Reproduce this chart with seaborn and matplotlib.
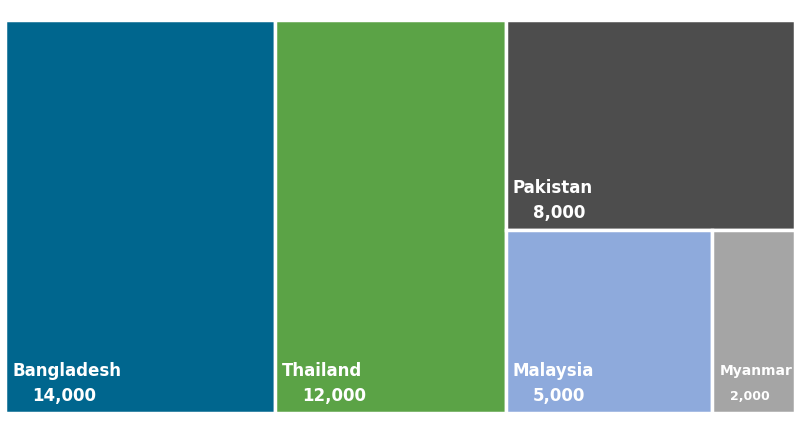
import matplotlib
matplotlib.use("Agg")
import matplotlib.pyplot as plt
from matplotlib.patches import Rectangle
import seaborn as sns

sns.set_style("white")
plt.rcParams['font.family'] = ['DejaVu Sans']

categories = ["Bangladesh", "Thailand", "Pakistan", "Malaysia", "Myanmar"]
values = [14000, 12000, 8000, 5000, 2000]
labels = ["14,000", "12,000", "8,000", "5,000", "2,000"]
colors = ["#00668E", "#5BA346", "#4D4D4D", "#8EAADC", "#A5A5A5"]

fig = plt.figure(figsize=(8, 4.34), dpi=100)
ax = fig.add_axes([0, 0, 1, 1])
ax.set_xlim(0, 800)
ax.set_ylim(434, 0)
ax.axis("off")

X0, Y0, W, H = 5, 20, 790, 393
total = sum(values)
# layout: first two as full-height columns, rest in a column split
rects = []
x = X0
for v in values[:2]:
    w = W * v / total
    rects.append((x, Y0, w, H))
    x += w
rest = values[2:]
rw = X0 + W - x
rt = sum(rest)
h1 = H * rest[0] / rt
rects.append((x, Y0, rw, h1))
bt = sum(rest[1:])
xx = x
for v in rest[1:]:
    w = rw * v / bt
    rects.append((xx, Y0 + h1, w, H - h1))
    xx += w

for i, (rx, ry, rw_, rh) in enumerate(rects):
    ax.add_patch(Rectangle((rx, ry), rw_, rh, facecolor=colors[i], edgecolor="white", lw=2.5))
    small = values[i] < 3000
    fs1 = 10 if small else 12
    fs2 = 9 if small else 12
    ax.text(rx + 7, ry + rh - 42, categories[i], color="white", fontweight="bold",
            fontsize=fs1, va="center", ha="left")
    ax.text(rx + (18 if small else 27), ry + rh - 17, labels[i], color="white",
            fontweight="bold", fontsize=fs2, va="center", ha="left")

fig.savefig("out.png", dpi=100)
